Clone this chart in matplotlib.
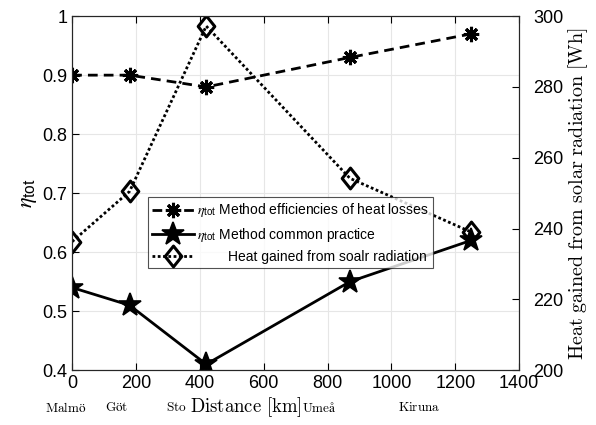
import matplotlib.pyplot as plt
from matplotlib.path import Path

plt.rcParams['font.family'] = ['Liberation Sans', 'DejaVu Sans']
plt.rcParams['mathtext.fontset'] = 'custom'
plt.rcParams['mathtext.rm'] = 'Liberation Sans'
plt.rcParams['mathtext.it'] = 'STIXGeneral:italic'

distance = [0, 180, 420, 870, 1250]
eta_heat_losses = [0.90, 0.90, 0.88, 0.93, 0.97]
eta_common = [0.54, 0.51, 0.41, 0.55, 0.62]
heat_gained = [236.3, 250.5, 297.2, 254.2, 239.0]

cities = ['Malmö', 'Göt', 'Sto', 'Umeå', 'Kiruna']
city_x = [-19, 140, 328, 775, 1088]

diamond = Path([(0, 1), (0.8, 0), (0, -1), (-0.8, 0), (0, 1)], closed=True)

fig = plt.figure(figsize=(5.96, 4.25), dpi=100)
ax = fig.add_axes([0.121, 0.129, 0.750, 0.833])
ax2 = ax.twinx()

l1, = ax.plot(distance, eta_heat_losses, color='black', linestyle=(0, (3.5, 2.2)), lw=2,
              marker=(8, 2, 0), markersize=11, markeredgewidth=2.2,
              label=r'$\eta_{\mathrm{tot}}$ Method efficiencies of heat losses')
l2, = ax.plot(distance, eta_common, color='black', linestyle='-', lw=2,
              marker='*', markersize=17, markerfacecolor='black', markeredgewidth=1.2,
              label=r'$\eta_{\mathrm{tot}}$ Method common practice')
l3, = ax2.plot(distance, heat_gained, color='black', linestyle=(0, (1, 0.9)), lw=2,
               marker=diamond, markersize=15, markerfacecolor='none', markeredgewidth=2.2,
               label='        Heat gained from soalr radiation')

ax.set_xlim(0, 1400)
ax.set_ylim(0.4, 1.0)
ax.set_xticks(range(0, 1401, 200))
ax.set_yticks([0.4, 0.5, 0.6, 0.7, 0.8, 0.9, 1.0])
ax.set_yticklabels(['0.4', '0.5', '0.6', '0.7', '0.8', '0.9', '1'])
ax2.set_ylim(200, 300)
ax2.set_yticks(range(200, 301, 20))

ax.grid(True, color='#e6e6e6', lw=0.8)
ax.set_axisbelow(True)
ax.tick_params(direction='in', labelsize=13, top=True, length=5)
ax2.tick_params(direction='in', labelsize=13, length=5, pad=10)
for a in (ax, ax2):
    for s in a.spines.values():
        s.set_linewidth(0.8)
        s.set_color('#262626')

ax.set_ylabel(r'$\eta_{\mathrm{tot}}$', fontsize=16, labelpad=2)
ax2.set_ylabel(r'$\mathrm{Heat\ gained\ from\ solar\ radiation\ [Wh]}$', fontsize=14.5,
               labelpad=2, math_fontfamily='cm')

for name, x in zip(cities, city_x):
    ax.text(x, -0.106, r'$\mathrm{' + name + '}$', transform=ax.get_xaxis_transform(),
            ha='center', va='center', fontsize=9.5, math_fontfamily='cm')
ax.text(544, -0.103, r'$\mathrm{Distance\ [km]}$', transform=ax.get_xaxis_transform(),
        ha='center', va='center', fontsize=13.5, math_fontfamily='cm')

leg = ax2.legend(handles=[l1, l2, l3], loc='upper left', bbox_to_anchor=(0.248, 0.536),
                 bbox_transform=fig.transFigure, fontsize=10, frameon=True, fancybox=False,
                 edgecolor='#262626', handlelength=3.0, handletextpad=0.25,
                 borderpad=0.3, labelspacing=0.45, borderaxespad=0)
leg.get_frame().set_linewidth(0.8)

fig.savefig('out.png', dpi=100)
